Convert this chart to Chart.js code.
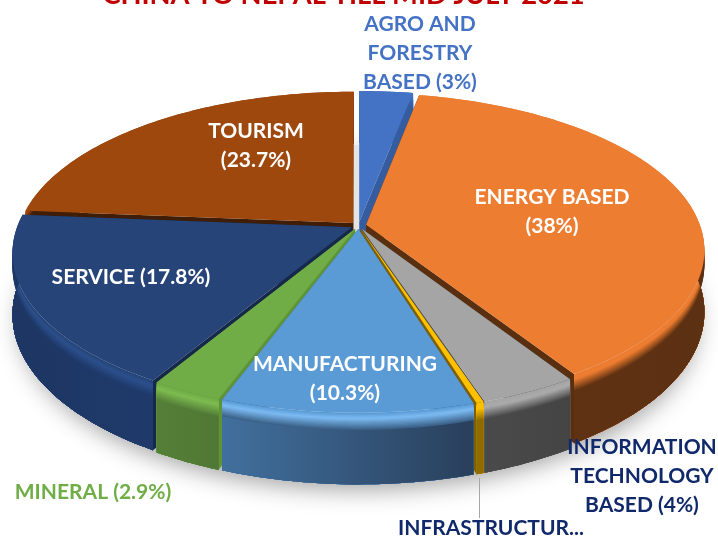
<!DOCTYPE html>
<html>
<head>
<meta charset="utf-8">
<script src="https://cdn.jsdelivr.net/npm/chart.js@4"></script>
<style>html,body{margin:0;padding:0;background:#fff;overflow:hidden}canvas{display:block}</style>
</head>
<body>
<canvas id="c" width="718" height="537"></canvas>
<script>
const titleText = 'CHINA TO NEPAL TILL MID JULY 2021';
const categories = ['AGRO AND FORESTRY BASED','ENERGY BASED','INFORMATION TECHNOLOGY BASED','INFRASTRUCTURE','MANUFACTURING','MINERAL','SERVICE','TOURISM'];
const shares = [3, 38, 4, 0.3, 10.3, 2.9, 17.8, 23.7];
const labelLines = [
  ['AGRO AND','FORESTRY','BASED (3%)'],
  ['ENERGY BASED','(38%)'],
  ['INFORMATION','TECHNOLOGY','BASED (4%)'],
  ['INFRASTRUCTUR...'],
  ['MANUFACTURING','(10.3%)'],
  ['MINERAL (2.9%)'],
  ['SERVICE (17.8%)'],
  ['TOURISM','(23.7%)']
];
// styling, kept apart from the values
const faceColors = ['#4472C4','#ED7D31','#A5A5A5','#FFC000','#5B9BD5','#70AD47','#264478','#9E480E'];
const rimColors  = ['#4472C4','#ED7D31','#ABABAB','#FFC000','#7CBBF2','#7DBC50','#2C508C','#9E480E'];
const wallLeft   = ['#355C9F','#623414','#4A4A4A','#8F6C00','#41709E','#557F38','#1D3663','#3F1D06'];
const wallRight  = ['#355C9F','#5C3012','#444444','#8F6C00','#293F5B','#507835','#1F3A6A','#3F1D06'];
const radialWall = ['#355C9F','#5A2F10','#4A4A4A','#7F6000','#2F5F8C','#5E9436','#16294A','#3F1D06'];
const labelColors= ['#4472C4','#FFFFFF','#10296B','#10296B','#FFFFFF','#70AD47','#FFFFFF','#FFFFFF'];
const labelCx    = [420,552,642,491,345,93,131,256];
const labelTop   = [24,197,447,528,364,492,277,131];
const lineStep = 29;

const CX=358.5, CY=225.5, RX=334, RY=153, K=0.16, DEPTH=60;
function proj(u,v,z){
  const w=1-K*v;
  return [CX+RX*u/w, CY+RY*v/w+z*DEPTH/w];
}
function hex(c){return [1,3,5].map(i=>parseInt(c.substr(i,2),16));}
function mix(a,b,t){const A=hex(a),B=hex(b);return 'rgb('+A.map((x,i)=>Math.round(x+(B[i]-x)*t)).join(',')+')';}
function toHex(s){return '#'+s.match(/\d+/g).map(n=>(+n).toString(16).padStart(2,'0')).join('');}

function arcPts(a0,a1,ou,ov,z){
  const n=Math.max(2,Math.ceil(Math.abs(a1-a0)/0.02)),pts=[];
  for(let i=0;i<=n;i++){
    const a=a0+(a1-a0)*i/n;
    pts.push(proj(ou+Math.cos(a),ov+Math.sin(a),z));
  }
  return pts;
}
function poly(ctx,pts){
  ctx.beginPath();
  pts.forEach((p,i)=>i?ctx.lineTo(p[0],p[1]):ctx.moveTo(p[0],p[1]));
  ctx.closePath();
}
const BEVEL=0.24, BEVEL_STEPS=14;
const pie3d={
  id:'pie3d',
  beforeDatasetsDraw(chart){
    const ctx=chart.ctx, meta=chart.getDatasetMeta(0);
    const slices=meta.data.map((arc,i)=>{
      const mid=(arc.startAngle+arc.endAngle)/2;
      const e=arc.options.offset/arc.outerRadius;
      return {i,a0:arc.startAngle,a1:arc.endAngle,mid,ou:Math.cos(mid)*e,ov:Math.sin(mid)*e};
    });
    // ground shadow + base disc
    ctx.save();
    ctx.shadowColor='rgba(0,0,0,0.38)';ctx.shadowBlur=24;ctx.shadowOffsetY=10;
    ctx.fillStyle='#E4E4E4';
    poly(ctx,arcPts(0,Math.PI*2,0,0,1));ctx.fill();
    ctx.restore();
    // painter's order: back to front
    slices.slice().sort((a,b)=>Math.sin(a.mid)-Math.sin(b.mid)).forEach(s=>{
      const i=s.i, A=proj(s.ou,s.ov,0), A2=proj(s.ou,s.ov,1);
      const rimTop=arcPts(s.a0,s.a1,s.ou,s.ov,0);
      const rimBot=arcPts(s.a0,s.a1,s.ou,s.ov,1);
      // radial walls
      ctx.fillStyle=radialWall[i];
      [[rimTop[0],rimBot[0]],[rimTop[rimTop.length-1],rimBot[rimBot.length-1]]].forEach(e=>{
        poly(ctx,[A,e[0],e[1],A2]);ctx.fill();
      });
      // outer wall with a soft rounded bevel
      const xs=rimTop.map(p=>p[0]);
      const wallMid=toHex(mix(wallLeft[i],wallRight[i],0.5));
      for(let b=0;b<BEVEL_STEPS;b++){
        const t=b/BEVEL_STEPS;
        ctx.fillStyle=t<0.3?mix(faceColors[i],rimColors[i],t/0.3):mix(rimColors[i],wallMid,(t-0.3)/0.7);
        poly(ctx,arcPts(s.a0,s.a1,s.ou,s.ov,t*BEVEL).concat(rimBot.slice().reverse()));ctx.fill();
      }
      const g=ctx.createLinearGradient(Math.min(...xs),0,Math.max(...xs)+0.01,0);
      g.addColorStop(0,wallLeft[i]);g.addColorStop(1,wallRight[i]);
      ctx.fillStyle=g;
      poly(ctx,arcPts(s.a0,s.a1,s.ou,s.ov,BEVEL).concat(rimBot.slice().reverse()));ctx.fill();
      // top face
      ctx.fillStyle=faceColors[i];
      poly(ctx,[A].concat(rimTop));ctx.fill();
    });
    // leader line and labels
    ctx.save();
    ctx.strokeStyle='#A6A6A6';ctx.lineWidth=1;
    ctx.beginPath();ctx.moveTo(479.5,478);ctx.lineTo(479.5,518);ctx.stroke();
    ctx.font='bold 21px Lato';ctx.textAlign='center';ctx.textBaseline='middle';
    labelLines.forEach((lines,i)=>{
      ctx.fillStyle=labelColors[i];
      lines.forEach((t,j)=>ctx.fillText(t,labelCx[i],labelTop[i]+j*lineStep));
    });
    ctx.restore();
    return false;
  }
};
new Chart(document.getElementById('c'),{
  type:'pie',
  data:{labels:categories,datasets:[{data:shares,backgroundColor:faceColors,offset:6,borderWidth:0}]},
  options:{
    responsive:false,animation:false,
    layout:{padding:{right:31}},
    plugins:{
      legend:{display:false},tooltip:{enabled:false},
      title:{display:true,text:titleText,color:'#C00000',font:{family:'Lato',size:27.3,weight:'bold',lineHeight:1.2},padding:{top:-21,bottom:0}}
    }
  },
  plugins:[pie3d]
});
</script>
</body>
</html>
